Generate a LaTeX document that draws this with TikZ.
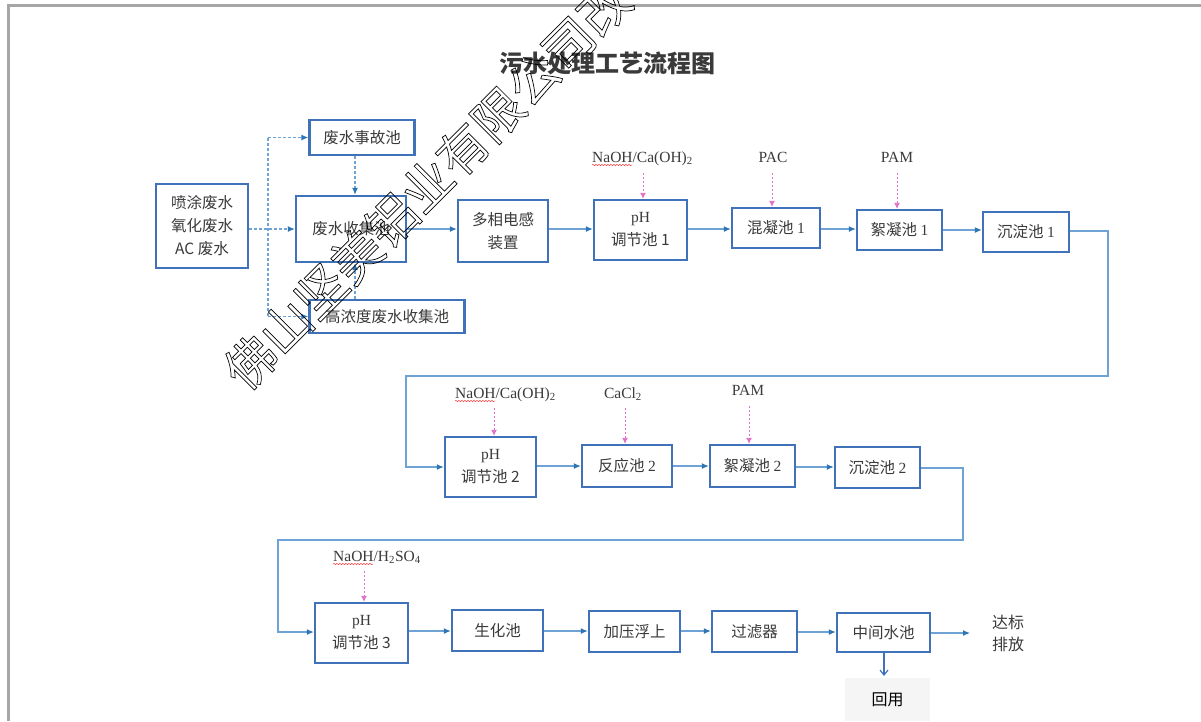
\documentclass[tikz,border=0pt]{standalone}
\usepackage{fontspec}
\setmainfont{Liberation Serif}
\newfontfamily\cjk{Noto Sans CJK SC}
\usetikzlibrary{arrows.meta,decorations.pathmorphing}
\definecolor{boxblue}{HTML}{3F72B9}
\definecolor{lineblue}{HTML}{6FA3D6}
\definecolor{tipblue}{HTML}{2E75B6}
\definecolor{chempink}{HTML}{E070C8}
\definecolor{txtgray}{HTML}{3A3A3A}
\definecolor{framegray}{HTML}{A6A6A6}
\tikzset{
  box/.style={draw=boxblue, line width=2.4pt, fill=white, inner sep=0pt, align=center,
    font=\cjk\fontsize{15.5}{23}\selectfont, text=txtgray},
  flow/.style={draw=lineblue, line width=1.2pt, -{Latex[length=7pt,width=6pt,color=tipblue]}},
  dflow/.style={flow, dashed, dash pattern=on 3pt off 2pt},
  chem/.style={inner sep=0pt, anchor=base west, font=\fontsize{15.5}{18}\selectfont, text=txtgray},
  chemc/.style={chem, anchor=base},
  dose/.style={draw=chempink, line width=0.9pt, dash pattern=on 2pt off 2pt, -{Latex[length=6pt,width=6pt,color=chempink]}},
  squig/.style={draw=red!80, line width=0.5pt, decorate, decoration={snake, amplitude=0.6pt, segment length=3pt}},
}
\begin{document}
\begin{tikzpicture}[x=1pt,y=-1pt]
\useasboundingbox (0,0) rectangle (1201,721);
\fill[white] (0,0) rectangle (1201,721);
% frame
\draw[framegray, line width=3pt] (8,721) -- (8,5) -- (1201,5);

% title
\node[font=\cjk\bfseries\fontsize{24}{26}\selectfont, text=txtgray] (title) at (607,63) {污水处理工艺流程图};

% row 1
\node[box, minimum width=92pt, minimum height=84pt] (src) at (202,226) {喷涂废水\\氧化废水\\AC 废水};
\node[box, minimum width=105pt, minimum height=35pt] (acc) at (362,137.5) {废水事故池};
\node[box, minimum width=110pt, minimum height=66pt] (col) at (351,229) {废水收集池};
\node[box, minimum width=155pt, minimum height=33pt] (hi) at (387,316.5) {高浓度废水收集池};
\node[box, minimum width=90pt, minimum height=62pt] (mp) at (503,231) {多相电感\\装置};
\node[box, minimum width=93pt, minimum height=60pt] (ph1) at (640.5,230) {\rmfamily pH\\{\cjk 调节池} 1};
\node[box, minimum width=88pt, minimum height=40pt] (hn1) at (776,228) {混凝池 {\rmfamily 1}};
\node[box, minimum width=85pt, minimum height=40pt] (xn1) at (899.5,230) {絮凝池 {\rmfamily 1}};
\node[box, minimum width=86pt, minimum height=40pt] (cd1) at (1026,232) {沉淀池 {\rmfamily 1}};

% row 2
\node[box, minimum width=91pt, minimum height=60pt] (ph2) at (490.5,467) {\rmfamily pH\\{\cjk 调节池} 2};
\node[box, minimum width=90pt, minimum height=42pt] (fy2) at (627,466) {反应池 {\rmfamily 2}};
\node[box, minimum width=85pt, minimum height=42pt] (xn2) at (752.5,466) {絮凝池 {\rmfamily 2}};
\node[box, minimum width=85pt, minimum height=41pt] (cd2) at (877.5,467.5) {沉淀池 {\rmfamily 2}};

% row 3
\node[box, minimum width=93pt, minimum height=60pt] (ph3) at (361.5,633) {\rmfamily pH\\{\cjk 调节池} 3};
\node[box, minimum width=91pt, minimum height=41pt] (sh) at (497.5,630.5) {生化池};
\node[box, minimum width=91pt, minimum height=41pt] (jy) at (634.5,631.5) {加压浮上};
\node[box, minimum width=85pt, minimum height=41pt] (gl) at (754.5,631.5) {过滤器};
\node[box, minimum width=93pt, minimum height=39pt] (zj) at (883.5,632.5) {中间水池};
\node[align=center, font=\cjk\fontsize{16}{22}\selectfont, text=txtgray, inner sep=0pt] (dbpf) at (1008,633) {达标\\排放};
\node[fill=black!4, minimum width=85pt, minimum height=43pt, inner sep=0pt, font=\cjk\fontsize{16}{18}\selectfont, text=black] (hy) at (887.5,699.5) {回用};

% chemical labels
\node[chem] (c1) at (592,162) {NaOH/Ca(OH)\textsubscript{2}};
\node[chemc] (c2) at (773,162) {PAC};
\node[chemc] (c3) at (897,162) {PAM};
\node[chem] (c4) at (455,398) {NaOH/Ca(OH)\textsubscript{2}};
\node[chemc] (c5) at (623,398) {CaCl\textsubscript{2}};
\node[chemc] (c6) at (748,395) {PAM};
\node[chem] (c7) at (333,561) {NaOH/H\textsubscript{2}SO\textsubscript{4}};
\foreach \c in {c1,c4,c7}{\draw[squig] ([yshift=-3pt]\c.base west) -- ++(40,0);}

% dosing arrows
\coordinate (d1) at (643,173);
\coordinate (d2) at (772,173);
\coordinate (d3) at (897,173);
\coordinate (d4) at (494,408);
\coordinate (d5) at (625,408);
\coordinate (d6) at (749,406);
\coordinate (d7) at (364,571);
\draw[dose] (d1) -- (d1 |- ph1.north);
\draw[dose] (d2) -- (d2 |- hn1.north);
\draw[dose] (d3) -- (d3 |- xn1.north);
\draw[dose] (d4) -- (d4 |- ph2.north);
\draw[dose] (d5) -- (d5 |- fy2.north);
\draw[dose] (d6) -- (d6 |- xn2.north);
\draw[dose] (d7) -- (d7 |- ph3.north);

% row 1 connectors
\coordinate (sp) at (268,229);
\draw[dflow] (src.east |- sp) -- (sp -| col.west);
\draw[draw=lineblue, line width=1.2pt, dash pattern=on 3pt off 2pt] (268,137.5) -- (268,316.5);
\draw[dflow] (268,137.5) -- (acc.west);
\draw[dflow] (268,316.5) -- (hi.west);
\coordinate (ac) at (355,0);
\draw[dflow] (ac |- acc.south) -- (ac |- col.north);
\draw[dflow] (ac |- hi.north) -- (ac |- col.south);
\draw[flow] (col.east |- sp) -- (sp -| mp.west);
\draw[flow] (mp.east |- 0,229) -- (ph1.west |- 0,229);
\draw[flow] (ph1.east |- 0,229) -- (hn1.west |- 0,229);
\draw[flow] (hn1.east |- 0,229) -- (xn1.west |- 0,229);
\draw[flow] (xn1.east |- 0,230) -- (cd1.west |- 0,230);
\draw[flow] (cd1.east |- 0,231) -- (1108,231) -- (1108,376) -- (406,376) -- (406,467) -- (ph2.west);

% row 2 connectors
\draw[flow] (ph2.east |- 0,466) -- (fy2.west |- 0,466);
\draw[flow] (fy2.east |- 0,466) -- (xn2.west |- 0,466);
\draw[flow] (xn2.east |- 0,467) -- (cd2.west |- 0,467);
\draw[flow] (cd2.east |- 0,468) -- (963,468) -- (963,540) -- (278,540) -- (278,632) -- (ph3.west |- 0,632);

% row 3 connectors
\draw[flow] (ph3.east |- 0,631) -- (sh.west |- 0,631);
\draw[flow] (sh.east |- 0,631) -- (jy.west |- 0,631);
\draw[flow] (jy.east |- 0,631) -- (gl.west |- 0,631);
\draw[flow] (gl.east |- 0,632) -- (zj.west |- 0,632);
\draw[flow] (zj.east |- 0,633) -- (970,633);
\draw[draw=boxblue, line width=1.2pt, -{Straight Barb[length=5pt,width=8pt]}] (884,652) -- (884,676);

% watermark
\begin{scope}
\clip (0,0) rectangle (1201,721);
\node[rotate=45, inner sep=0pt, font=\cjk\fontsize{50}{50}\selectfont] (wm) at (427,185) {\special{pdf:code 1 Tr 0.7 w}佛山坚美铝业有限公司改};
\end{scope}
\end{tikzpicture}
\end{document}
